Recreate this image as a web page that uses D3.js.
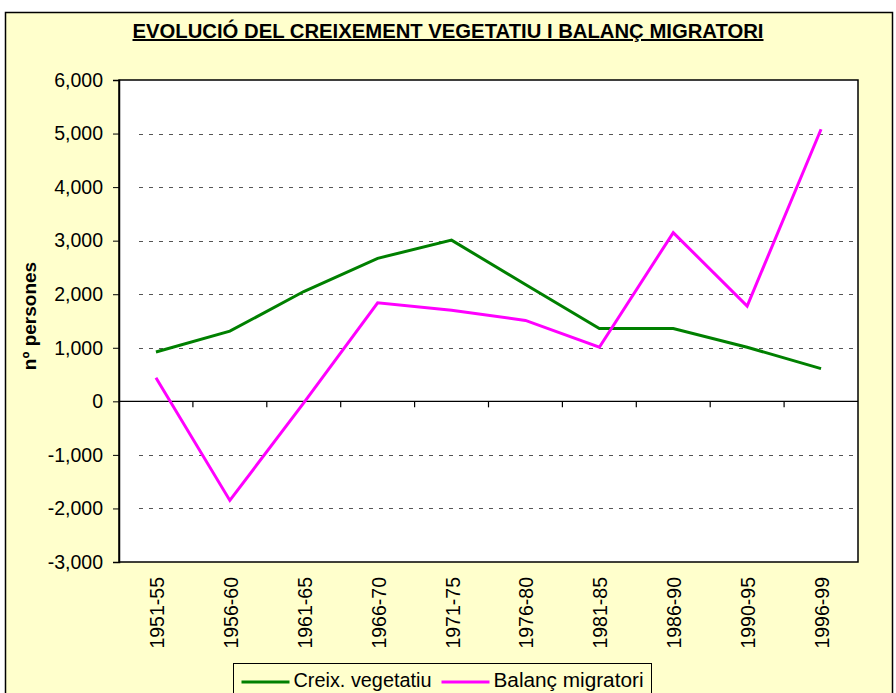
<!DOCTYPE html>
<html>
<head>
<meta charset="utf-8">
<script src="https://cdn.jsdelivr.net/npm/d3@7"></script>
<style>
  body { margin: 0; background: #fff; }
  svg { display: block; font-family: "Liberation Sans", Arial, sans-serif; }
</style>
</head>
<body>
<svg id="chart" width="896" height="693"></svg>
<script>
// periods, series values and tick labels
var periods = ["1951-55", "1956-60", "1961-65", "1966-70", "1971-75",
               "1976-80", "1981-85", "1986-90", "1990-95", "1996-99"];
var creixVegetatiu = [920, 1310, 2050, 2670, 3010, 2180, 1360, 1360, 1010, 610];
var balancMigratori = [440, -1850, -30, 1840, 1700, 1510, 1010, 3150, 1780, 5080];
var yTicks = [-3000, -2000, -1000, 0, 1000, 2000, 3000, 4000, 5000, 6000];
var seriesNames = ["Creix. vegetatiu", "Balanç migratori"];
var seriesColors = ["#008000", "#FF00FF"];

var W = 896, H = 693;
var L = 119, R = 858, T = 80, B = 562;

var vis = d3.select("#chart");

// chart area background + outer border
vis.append("rect")
    .attr("x", 5.5).attr("y", 12.5)
    .attr("width", 887).attr("height", 700)
    .attr("fill", "#FFFFCC")
    .attr("stroke", "#000").attr("stroke-width", 1.5);

var xScale = d3.scaleBand().domain(periods).range([L, R]);
var yScale = d3.scaleLinear().domain([-3000, 6000]).range([B, T]);

// plot area
vis.append("rect")
    .attr("x", L).attr("y", T)
    .attr("width", R - L).attr("height", B - T)
    .attr("fill", "#fff");

// dashed gridlines
vis.append("g")
  .selectAll("line")
  .data(yTicks.filter(function(v) { return v !== 0 && v !== 6000 && v !== -3000; }))
  .enter().append("line")
    .attr("x1", L + 20).attr("x2", R)
    .attr("y1", function(v) { return Math.round(yScale(v)) + 0.5; })
    .attr("y2", function(v) { return Math.round(yScale(v)) + 0.5; })
    .attr("stroke", "#555")
    .attr("stroke-width", 1)
    .attr("stroke-dasharray", "4,6");

// plot border
vis.append("rect")
    .attr("x", L).attr("y", T)
    .attr("width", R - L).attr("height", B - T)
    .attr("fill", "none")
    .attr("stroke", "#000").attr("stroke-width", 1.5);

// y axis
var fmt = d3.format(",d");
var yAxis = d3.axisLeft(yScale)
    .tickValues(yTicks)
    .tickSize(6)
    .tickPadding(10)
    .tickFormat(function(v) { return fmt(v).replace("−", "-"); });

var gy = vis.append("g")
    .attr("transform", "translate(" + L + ",0)")
    .call(yAxis);
gy.select(".domain").attr("stroke-width", 1.5);
gy.selectAll("text")
    .attr("font-size", 19.5)
    .attr("font-family", "Liberation Sans, Arial, sans-serif")
    .attr("fill", "#000");

// zero line with category ticks
var y0 = yScale(0);
vis.append("line")
    .attr("x1", L).attr("x2", R)
    .attr("y1", y0).attr("y2", y0)
    .attr("stroke", "#000").attr("stroke-width", 1.2);

vis.append("g")
  .selectAll("line")
  .data(periods.slice(1))
  .enter().append("line")
    .attr("x1", function(d) { return xScale(d); })
    .attr("x2", function(d) { return xScale(d); })
    .attr("y1", y0).attr("y2", y0 + 6)
    .attr("stroke", "#000").attr("stroke-width", 1.2);

// rotated category labels under the plot
vis.append("g")
  .selectAll("text")
  .data(periods)
  .enter().append("text")
    .attr("transform", function(d) {
      return "translate(" + (xScale(d) + xScale.bandwidth() / 2 + 8) + "," + (B + 15) + ") rotate(-90)";
    })
    .attr("text-anchor", "end")
    .attr("font-size", 19.5)
    .attr("fill", "#000")
    .text(function(d) { return d; });

// lines
var lineGen = d3.line()
    .x(function(p) { return xScale(p[0]) + xScale.bandwidth() / 2; })
    .y(function(p) { return yScale(p[1]); });

[creixVegetatiu, balancMigratori].forEach(function(vals, i) {
  vis.append("path")
      .attr("d", lineGen(periods.map(function(p, j) { return [p, vals[j]]; })))
      .attr("fill", "none")
      .attr("stroke", seriesColors[i])
      .attr("stroke-width", 3)
      .attr("stroke-linejoin", "miter");
});

// title
vis.append("text")
    .attr("x", 448).attr("y", 38)
    .attr("text-anchor", "middle")
    .attr("font-size", 20)
    .attr("font-weight", "bold")
    .attr("text-decoration", "underline")
    .attr("textLength", 631)
    .attr("lengthAdjust", "spacingAndGlyphs")
    .text("EVOLUCIÓ DEL CREIXEMENT VEGETATIU I BALANÇ MIGRATORI");

// y axis title
vis.append("text")
    .attr("transform", "translate(36,316) rotate(-90)")
    .attr("text-anchor", "middle")
    .attr("font-size", 19)
    .attr("font-weight", "bold")
    .text("nº persones");

// legend
var lg = vis.append("g").attr("transform", "translate(233.5,663.5)");
lg.append("rect")
    .attr("width", 418).attr("height", 40)
    .attr("fill", "#FFFFCC")
    .attr("stroke", "#000").attr("stroke-width", 1);

var legendX = [8, 208];
seriesNames.forEach(function(name, i) {
  lg.append("line")
      .attr("x1", legendX[i]).attr("x2", legendX[i] + 48)
      .attr("y1", 18.5).attr("y2", 18.5)
      .attr("stroke", seriesColors[i]).attr("stroke-width", 3);
  lg.append("text")
      .attr("x", legendX[i] + 52).attr("y", 23.5)
      .attr("font-size", 20.5)
      .attr("textLength", i === 0 ? 138 : 150)
      .attr("lengthAdjust", "spacingAndGlyphs")
      .text(name);
});
</script>
</body>
</html>
